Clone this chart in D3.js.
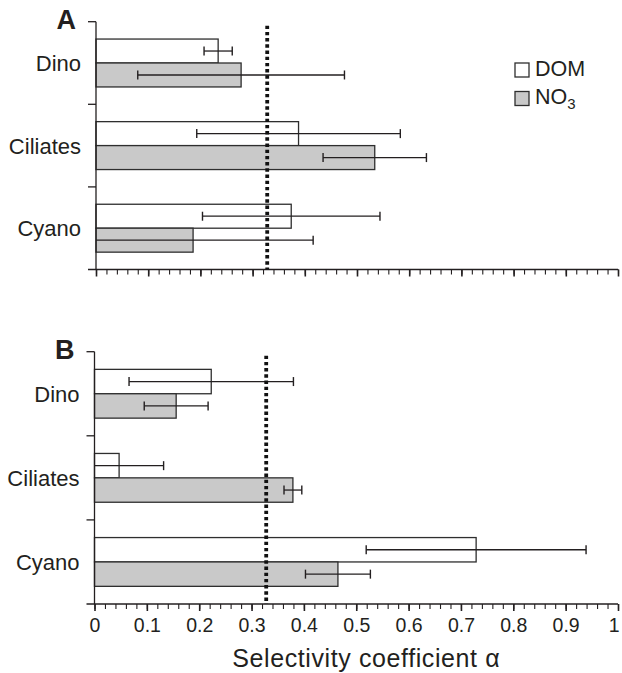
<!DOCTYPE html>
<html>
<head>
<meta charset="utf-8">
<script src="https://cdn.jsdelivr.net/npm/d3@7"></script>
<style>
  body { margin: 0; background: #fff; }
  text { font-family: "Liberation Sans", Arial, Helvetica, sans-serif; fill: #231f20; }
</style>
</head>
<body>
<div id="chart"></div>
<script>
// categories and series
const categories = ["Dino", "Ciliates", "Cyano"];
const seriesNames = ["DOM", "NO3"];

// panel A: mean and error (half-width)
const domA = [0.234, 0.388, 0.374];
const domAErr = [0.027, 0.195, 0.170];
const no3A = [0.278, 0.534, 0.186];
const no3AErr = [0.198, 0.099, 0.230];

// panel B
const domB = [0.223, 0.047, 0.729];
const domBErr = [0.157, 0.085, 0.210];
const no3B = [0.156, 0.379, 0.465];
const no3BErr = [0.061, 0.017, 0.062];

// neutral selectivity line (1/n)
const neutralAlpha = 0.328;

const majorTicks = d3.range(0, 11).map(i => i / 10);
const minorTicks = d3.range(0, 51).map(i => i / 50);

const width = 622, height = 673;
const ink = "#231f20";
const fills = { DOM: "#ffffff", NO3: "#c9c9c9" };

const svg = d3.select("#chart").append("svg")
  .attr("width", width)
  .attr("height", height);

function rows(dom, domErr, no3, no3Err) {
  return categories.map((c, i) => ({
    cat: c,
    vals: [
      { key: "DOM", v: dom[i], e: domErr[i] },
      { key: "NO3", v: no3[i], e: no3Err[i] }
    ]
  }));
}

function drawPanel(opts) {
  const g = svg.append("g");
  const data = rows(opts.dom, opts.domErr, opts.no3, opts.no3Err);

  const x = d3.scaleLinear().domain([0, 1]).range([opts.x0, opts.x1]);
  const y = d3.scaleBand().domain(categories)
    .range([opts.top, opts.bottom])
    .paddingInner(0.42).paddingOuter(0.21);
  const ySub = d3.scaleBand().domain(seriesNames).range([0, y.bandwidth()]);

  // bars
  const grp = g.selectAll(".cat").data(data).enter().append("g")
    .attr("transform", d => "translate(0," + y(d.cat) + ")");

  grp.selectAll("rect").data(d => d.vals).enter().append("rect")
    .attr("x", x(0))
    .attr("y", d => ySub(d.key))
    .attr("width", d => x(d.v) - x(0))
    .attr("height", ySub.bandwidth())
    .attr("fill", d => fills[d.key])
    .attr("stroke", "#2e2e2e")
    .attr("stroke-width", 1.3);

  // error bars
  const eb = grp.selectAll(".err").data(d => d.vals).enter().append("g")
    .attr("transform", d => "translate(0," + (ySub(d.key) + ySub.bandwidth() / 2) + ")");
  eb.append("line")
    .attr("x1", d => x(Math.max(0, d.v - d.e)))
    .attr("x2", d => x(d.v + d.e))
    .attr("stroke", ink).attr("stroke-width", 1.3);
  eb.filter(d => d.v - d.e >= 0).append("line")
    .attr("x1", d => x(d.v - d.e)).attr("x2", d => x(d.v - d.e))
    .attr("y1", -4.5).attr("y2", 4.5)
    .attr("stroke", ink).attr("stroke-width", 1.4);
  eb.append("line")
    .attr("x1", d => x(d.v + d.e)).attr("x2", d => x(d.v + d.e))
    .attr("y1", -4.5).attr("y2", 4.5)
    .attr("stroke", ink).attr("stroke-width", 1.4);

  // y axis with boundary ticks
  const step = y.step();
  const bounds = d3.range(0, categories.length).map(i => opts.top + i * step);
  g.append("line")
    .attr("x1", x(0)).attr("x2", x(0))
    .attr("y1", opts.top).attr("y2", opts.bottom)
    .attr("stroke", ink).attr("stroke-width", 1.3);
  g.selectAll(".ytick").data(bounds).enter().append("line")
    .attr("x1", x(0) - 8).attr("x2", x(0))
    .attr("y1", d => d).attr("y2", d => d)
    .attr("stroke", ink).attr("stroke-width", 1.3);

  g.selectAll(".ylab").data(categories).enter().append("text")
    .attr("x", opts.x0 - 15)
    .attr("y", d => y(d) + y.bandwidth() / 2)
    .attr("dy", "0.36em")
    .attr("text-anchor", "end")
    .style("font-size", "22px")
    .text(d => d);

  // x axis
  const ax = g.append("g").attr("transform", "translate(0," + opts.bottom + ")");
  ax.append("line")
    .attr("x1", x(0) - 8).attr("x2", x(1))
    .attr("stroke", ink).attr("stroke-width", 1.3);
  ax.call(d3.axisBottom(x).tickValues(minorTicks).tickSize(5).tickSizeOuter(0).tickFormat(""))
    .call(a => a.select(".domain").remove());
  ax.selectAll(".tick line").attr("stroke", ink).attr("stroke-width", 1.1);

  const axMajor = g.append("g").attr("transform", "translate(0," + opts.bottom + ")")
    .call(d3.axisBottom(x).tickValues(majorTicks).tickSize(7).tickSizeOuter(0)
      .tickPadding(7)
      .tickFormat(opts.labels ? d3.format("~g") : ""))
    .call(a => a.select(".domain").remove());
  axMajor.selectAll(".tick line").attr("stroke", ink).attr("stroke-width", 1.6);
  axMajor.selectAll(".tick text")
    .style("font-size", "19.5px")
    .attr("fill", ink);
  // keep the last label inside the page
  axMajor.selectAll(".tick text").filter(d => d === 1)
    .attr("text-anchor", "end").attr("dx", "0.05em");

  // neutral selectivity dotted line
  g.append("line")
    .attr("x1", x(neutralAlpha)).attr("x2", x(neutralAlpha))
    .attr("y1", opts.top + 4).attr("y2", opts.bottom)
    .attr("stroke", "#111")
    .attr("stroke-width", 3.8)
    .attr("stroke-dasharray", "3.4,2.8");

  // panel letter
  g.append("text")
    .attr("x", opts.x0 - 20)
    .attr("y", opts.top + 7.5)
    .attr("text-anchor", "end")
    .style("font-size", "27px")
    .style("font-weight", "bold")
    .text(opts.letter);

  return x;
}

drawPanel({ letter: "A", dom: domA, domErr: domAErr, no3: no3A, no3Err: no3AErr,
  top: 21.7, bottom: 269.5, x0: 96, x1: 618, labels: false });
const xB = drawPanel({ letter: "B", dom: domB, domErr: domBErr, no3: no3B, no3Err: no3BErr,
  top: 351.7, bottom: 604, x0: 94.5, x1: 618, labels: true });

// axis title
svg.append("text")
  .attr("x", (xB(0) + xB(1)) / 2 + 10)
  .attr("y", 667)
  .attr("text-anchor", "middle")
  .style("font-size", "25px")
  .style("letter-spacing", "0.6px")
  .text("Selectivity coefficient \u03b1");

// legend
const legend = svg.append("g").attr("transform", "translate(515,63)");
const li = legend.selectAll("g").data(seriesNames).enter().append("g")
  .attr("transform", (d, i) => "translate(0," + i * 28.5 + ")");
li.append("rect")
  .attr("width", 14).attr("height", 14)
  .attr("fill", d => fills[d])
  .attr("stroke", "#2e2e2e").attr("stroke-width", 1.3);
const lt = li.append("text")
  .attr("x", 20).attr("y", 12.5)
  .style("font-size", "21.5px");
lt.append("tspan").text(d => d === "NO3" ? "NO" : d);
lt.filter(d => d === "NO3").append("tspan")
  .attr("dy", 5).style("font-size", "15px").text("3");
</script>
</body>
</html>
